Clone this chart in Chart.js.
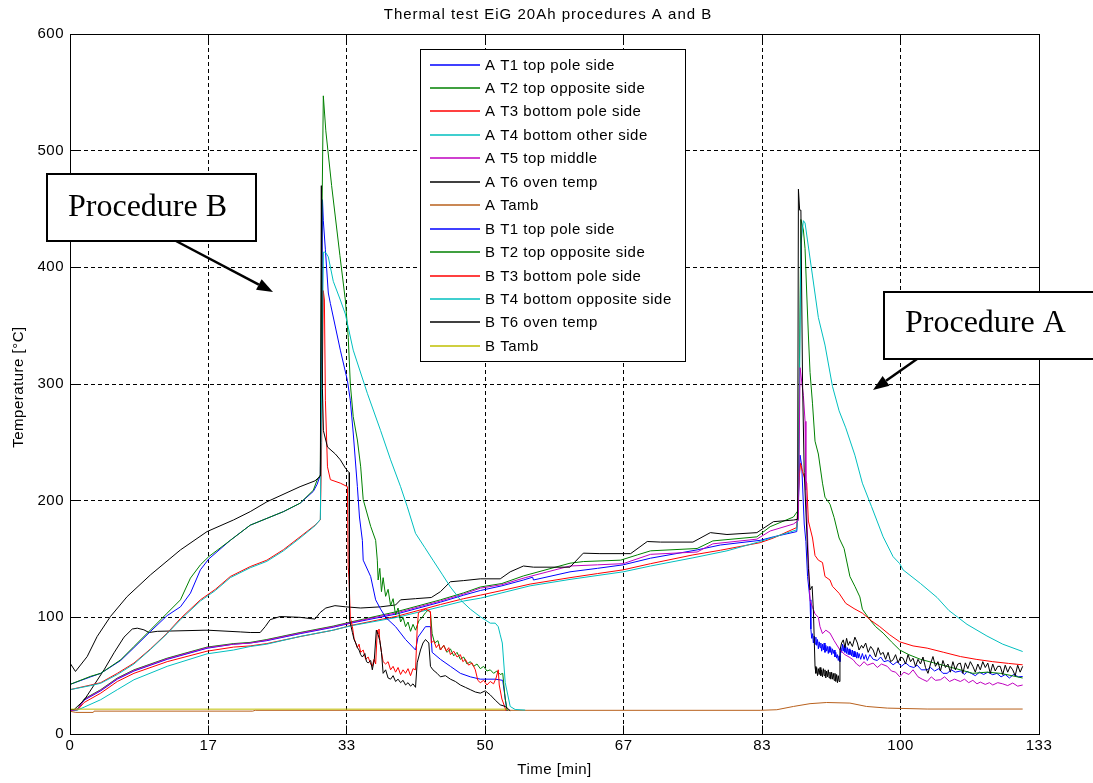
<!DOCTYPE html>
<html>
<head>
<meta charset="utf-8">
<title>Thermal test EiG 20Ah procedures A and B</title>
<script src="https://cdn.jsdelivr.net/npm/chart.js@4/dist/chart.umd.min.js"></script>
<style>
  html, body { margin: 0; padding: 0; background: #fff; }
  #wrap { width: 1093px; height: 783px; }
</style>
</head>
<body>
<div id="wrap"><canvas id="c" width="1093" height="783"></canvas></div>
<script>
// Time axis: one grid step = 1000 s (16.67 min); tick labels as printed on the axis
const xTickLabels = ['0', '17', '33', '50', '67', '83', '100', '133'];
const yTickLabels = ['0', '100', '200', '300', '400', '500', '600'];

// Each series: [time (min), temperature (°C)]
const A_T1 = [[0,20],[0.9,21],[1.7,29],[3.7,37],[5.7,47],[7.7,54],[11.7,64],[16.5,73.5],[19.7,77],[21.7,78],[23.7,80],[27.7,86],[31.7,91.5],[33.8,95],[39.4,103],[44.6,113],[47.4,119],[49.4,123],[52,127],[54.6,132],[55.7,134.4],[55.8,132],[60.2,139],[63.5,142],[66.6,145],[69.9,150.7],[75.5,157.8],[78.3,162],[83.1,166],[84.7,169],[87.5,173.5],[87.7,200],[87.9,239],[88.1,230],[88.4,180],[88.6,165],[88.8,135],[89.1,115],[89.2,90],[89.3,82],[89.4,86],[89.5,78],[89.6,84],[89.7,77],[89.8,83],[89.9,76],[90.0,81],[90.1,73],[90.2,79],[90.3,74],[90.4,78],[90.5,71],[90.6,77],[90.7,72],[90.8,78],[90.9,70],[91.0,76],[91.1,71],[91.2,75],[91.3,69],[91.4,75],[91.5,70],[91.6,74],[91.7,68],[91.8,73],[91.9,69],[92.0,72],[92.1,66],[92.2,70],[92.3,65],[92.4,68],[92.5,63],[92.6,67],[92.7,62],[92.8,74],[92.9,70],[93.0,77],[93.1,71],[93.2,76],[93.3,70],[93.4,75],[93.5,69],[93.6,74],[93.7,68],[93.8,73],[93.9,68],[94.0,72],[94.1,67],[94.2,72],[94.3,66],[94.4,71],[94.5,66],[94.6,70],[94.7,65],[94.8,70],[94.9,65],[95.0,69],[95.2,64],[95.4,69],[95.6,64],[95.8,68],[96.0,63],[96.3,68],[96.7,64],[97.2,63],[97.6,66],[98.0,62],[98.5,63],[99.1,59.3],[99.6,62],[100.1,58],[100.6,61],[101.1,58],[101.6,57],[102.0,59],[102.5,55],[103.2,55],[103.6,57],[104.1,54],[104.6,56],[105.1,52],[105.6,52],[106.1,55],[106.6,53],[107.2,54],[107.7,51],[108.0,53.6],[108.5,52],[109.0,50],[109.5,53],[110.0,51],[110.5,53],[111.1,50.8],[111.6,52],[112.1,49],[112.6,51],[113.1,48],[113.6,51],[114.2,49],[114.7,49.3]];

const A_T2 = [[0,20],[0.9,21.5],[1.7,30],[3.7,38],[5.7,48],[7.7,55],[11.7,65],[16.5,74.5],[19.7,77.5],[21.7,78.5],[23.7,81],[27.7,87],[31.7,92.5],[33.8,96],[39.4,105],[44.6,115],[47.4,121],[49.4,126],[52,129],[54.6,135.5],[60.2,146.4],[61.8,147.8],[66.3,149],[68.3,153.5],[69.9,157],[75.5,159],[77.4,165.5],[82.7,169],[84.3,177.7],[87.1,186],[87.7,192],[87.8,300],[88.0,441],[88.3,432],[88.5,416],[88.7,378],[88.9,342],[89.1,310],[89.4,283],[89.7,251],[90.1,240],[90.6,215],[90.9,203],[91.5,197],[92.0,185.5],[92.6,168],[93.2,159],[93.9,135],[94.5,126.6],[95.1,117.5],[95.4,107],[96.3,98],[97.0,92],[97.9,86.5],[98.9,79],[99.9,72],[101.0,68],[102.4,64],[104.0,61],[105.6,58],[107.2,55],[108.7,52],[110.4,53],[112.0,52],[113.4,50],[114.7,48]];

const A_T3 = [[0,20],[0.9,20.5],[1.7,27],[3.7,35],[5.7,45],[7.7,52],[11.7,62],[16.5,71],[19.7,74.5],[21.7,75.5],[23.7,77.5],[27.7,83.5],[31.7,89],[33.8,93],[39.4,101],[44.6,111],[47.4,116],[49.4,119],[52,123],[55.4,128.5],[60.2,134],[63.5,137.5],[66.6,140.7],[69.9,146],[75.0,153.5],[78.3,157.5],[83.1,164],[84.7,168],[87.5,177],[87.8,220],[87.95,232],[88.2,225],[88.5,218],[88.7,215],[88.9,182.5],[89.4,168],[89.7,153],[90.1,149],[90.6,147],[90.9,135],[91.5,132],[91.8,126.6],[92.6,120.6],[93.4,112],[94.4,107.5],[95.4,103.6],[96.5,97],[97.5,92],[98.7,85],[99.9,79],[101.5,75.5],[103.2,73.6],[105.2,70],[107.2,66.4],[109.1,64],[111.1,62],[113.0,60.5],[114.7,59.3]];

const A_T4 = [[0,20],[0.9,20.5],[1.7,23],[3.7,29.4],[5.7,38],[7.7,46.5],[11.7,58],[16.5,68.7],[19.7,72],[21.7,75],[23.7,77],[27.7,83.6],[31.7,89],[33.8,92.7],[39.4,100],[44.6,109],[47.4,114],[49.4,116.4],[55.4,127],[60.2,132.5],[66.6,139],[69.9,144],[75.0,151],[79.1,157],[83.1,165],[87.5,175],[87.7,200],[88.0,420],[88.3,440],[88.5,438],[89.4,392.6],[90.1,357],[90.9,333.4],[91.8,298],[92.6,277],[93.4,262.4],[94.5,239],[95.4,215],[96.5,195],[97.9,169],[99.1,152],[99.9,146],[100.3,140.7],[102.4,129],[104.4,117],[105.8,106],[108.0,94],[110.4,84],[112.3,77],[114.7,70.7]];

const A_T5 = [[0,20],[0.9,21],[1.7,29.5],[3.7,37.5],[5.7,47.5],[7.7,54.5],[11.7,64.5],[16.5,74],[19.7,77],[21.7,78],[23.7,80.5],[27.7,86.5],[31.7,92],[33.8,95.5],[39.4,104],[44.6,114],[47.4,120],[49.4,125],[52,128],[54.8,134],[60.2,144],[63.5,145],[66.6,146],[69.9,154],[75.5,156],[77.4,163],[82.7,167],[84.3,174],[87.1,180],[87.7,183],[87.9,314],[88.3,290],[88.5,268],[88.6,209],[88.9,150],[89.1,114.5],[89.4,108.6],[89.7,103],[90.1,100],[90.3,92],[90.6,86],[91.0,89],[91.5,86.5],[92.0,80],[92.7,72],[93.3,68],[93.8,66],[94.3,63.6],[94.7,60],[95.1,58],[95.6,62],[96.0,59],[96.7,60.8],[97.2,57],[97.7,60],[98.4,58],[98.9,54],[99.4,53],[99.9,49],[100.4,53],[101.0,51],[101.5,55],[102.1,49],[102.6,47],[103.2,45],[103.7,49],[104.2,46],[104.8,46.5],[105.3,49],[105.9,45],[106.5,47],[107.2,45],[107.7,47],[108.2,44],[108.7,46],[109.2,43],[109.6,44.5],[110.2,42.5],[110.7,44],[111.1,42],[111.7,44],[112.3,43],[112.9,41.5],[113.5,43.7],[114.1,41],[114.7,42]];

const A_T6 = [[0,21],[0.5,21],[1.7,29],[2.9,42],[4.1,55],[5.3,69.6],[6.5,83],[7.5,90],[8.1,90.7],[8.9,89.3],[9.5,87],[10.5,88],[16.5,89],[20.5,87.5],[21.7,87],[22.9,87],[23.5,92],[24.1,98],[25.3,100.7],[27.7,100],[29.5,98.5],[30.1,104],[30.8,108],[31.9,110],[33.2,109],[35.0,108],[37.4,109],[39.2,110.6],[39.8,115],[41.6,116],[43.5,117],[44.6,122],[45.8,130.5],[47.4,131.5],[49.4,133],[51.8,133],[53.0,139],[54.6,144],[55.8,143],[60.2,143],[61.8,155],[63.8,154.6],[67.5,154.6],[69.5,165],[71.1,164.5],[75.0,164.5],[77.1,172.6],[79.1,171],[82.7,172.6],[84.7,182],[87.1,183.4],[87.6,184],[87.7,467],[87.85,449],[88.0,449],[88.2,300],[88.4,224],[88.9,142],[89.1,123.5],[89.35,126.6],[89.5,106.5],[89.7,58],[89.8,52],[89.9,57],[90.0,50],[90.1,56],[90.2,51],[90.3,57],[90.4,50],[90.5,55],[90.6,49],[90.7,56],[90.8,50],[90.9,55],[91.0,48],[91.1,54],[91.2,49],[91.3,55],[91.4,48],[91.5,53],[91.6,47],[91.7,53],[91.8,47],[91.9,52],[92.0,46],[92.1,52],[92.2,45],[92.3,51],[92.4,44],[92.5,50],[92.6,45],[92.7,72],[92.9,78],[93.1,80.7],[93.3,74],[93.5,82],[93.7,76],[93.9,79.3],[94.2,75],[94.5,83],[94.8,78],[95.0,72],[95.3,76],[95.5,73.6],[95.8,78],[96.1,70],[96.4,75],[96.7,72],[97.0,66],[97.3,74],[97.6,68],[97.9,70],[98.2,64],[98.5,70],[98.8,62],[99.1,63.6],[99.4,68],[99.7,61],[100.0,66],[100.3,65],[100.6,60],[100.9,68],[101.2,62],[101.5,65],[101.8,58],[102.1,64],[102.4,60],[102.7,66],[103.0,57],[103.3,52],[103.6,60],[103.9,66.4],[104.2,58],[104.5,62],[104.8,54],[105.1,63],[105.4,57],[105.7,60],[106.0,53],[106.3,62],[106.6,55],[106.9,60],[107.2,60.8],[107.5,52],[107.8,61],[108.1,56],[108.4,62],[108.7,58],[109.0,53],[109.3,60],[109.6,55],[109.9,62],[110.2,57],[110.5,60.8],[110.8,52],[111.1,60],[111.4,54],[111.7,58],[112.0,58],[112.3,51],[112.6,59],[112.9,53],[113.2,58],[113.5,55],[113.8,50],[114.1,59],[114.4,53],[114.7,58]];

const A_Tamb = [[0,19.5],[0.7,18.5],[2.8,18.5],[2.9,19.6],[22.0,19.6],[22.3,20.3],[83.1,20.3],[85.1,20.8],[87.1,23.6],[89.1,26],[91.1,27],[93.9,26.5],[95.9,23.6],[98.4,22.2],[103.2,21.4],[114.7,21.4]];

const B_T1 = [[0,42.5],[2.5,49],[3.7,52],[6.1,63],[7.7,74],[9.7,88],[11.7,101.5],[13.3,109],[14.5,120.7],[15.7,140.7],[16.7,150],[19.3,166],[21.7,179],[25.7,190.6],[27.7,197.8],[29.3,208],[29.75,214],[30.14,222],[30.3,330],[30.4,458],[30.5,440],[30.75,415],[31.1,378],[31.35,369],[32.55,329],[33.4,303],[33.75,286],[34.1,258],[34.6,212],[34.85,186],[35.2,166],[35.3,149],[36.2,135],[36.8,115],[37.4,107],[38.0,100],[39.2,92],[40.4,81],[41.6,72],[41.9,83],[42.8,92],[43.4,92],[43.6,70],[44.6,64],[45.8,58],[47.0,52],[48.2,49],[49.4,47],[51.2,47],[52.1,46],[52.6,20]];

const B_T2 = [[0,42.5],[2.5,49.5],[3.7,52],[6.1,63.6],[7.7,75],[9.7,89.3],[11.7,103.6],[13.3,115],[14.5,133.6],[15.7,145],[16.7,152],[19.3,166],[21.7,179],[25.7,190.6],[27.7,197.8],[29.3,209],[29.75,217.7],[30.14,222],[30.3,420],[30.5,547],[30.8,517],[31.5,470],[32.5,410],[33.15,372],[33.5,340],[33.75,300],[34.1,272],[34.6,252],[35.0,229],[35.3,201],[36.2,178],[36.8,166],[37.0,149],[37.1,132],[37.3,142],[37.5,122],[37.7,134],[38.0,118],[38.3,124],[38.6,110],[38.9,116],[39.2,102],[39.5,108],[39.8,96],[40.1,100],[40.4,92],[40.7,96],[41.0,88],[41.3,94],[41.6,89],[42.0,97],[42.4,100],[42.8,104],[43.1,106],[43.4,104],[43.6,86],[43.9,78],[44.3,80],[44.6,72],[45.0,76],[45.4,70],[45.8,73],[46.2,67],[46.6,70],[47.0,64],[47.4,66],[47.8,60],[48.2,62],[48.6,58],[49.0,60],[49.4,56],[49.8,58],[50.2,54],[50.6,55],[51.0,52],[51.4,54],[51.8,51],[52.1,52],[52.4,30],[52.65,20]];

const B_T3 = [[0,38],[2.5,42],[3.7,44],[5.7,52],[7.7,60.8],[9.7,73],[11.7,86.5],[13.3,99],[15.7,115],[17.5,124],[19.3,135],[21.7,143.5],[23.7,149],[25.7,158],[27.7,169],[29.5,179],[30.14,183.5],[30.3,250],[30.5,380],[30.63,372],[30.75,286],[31.0,229],[31.35,218],[32.55,215],[33.4,212],[33.5,143],[33.6,132],[33.75,100],[34.0,92],[34.2,82],[34.4,78],[34.6,74],[34.8,77],[35.0,70],[35.3,72],[35.6,64],[35.9,66],[36.2,60],[36.4,58],[36.6,64],[36.8,60],[37.0,89],[37.12,86],[37.2,90],[37.3,80],[37.5,70],[37.7,62],[38.0,60],[38.3,62],[38.6,55],[38.9,58],[39.2,53],[39.5,57],[39.8,51],[40.1,55],[40.4,52],[40.7,56],[41.0,50],[41.3,56],[41.6,55],[41.8,90],[41.95,104],[42.4,106],[42.8,107],[43.4,105],[43.5,78],[43.8,80],[44.1,74],[44.4,77],[44.6,72],[45.0,76],[45.3,71],[45.6,74],[45.8,68],[46.2,71],[46.6,66],[47.0,68],[47.3,62],[47.6,64],[48.0,59],[48.4,61],[48.8,55],[49.1,46],[49.4,44],[49.8,46],[50.2,42],[50.6,45],[51.0,43],[51.3,48],[51.56,55],[51.68,42],[52.0,30],[52.5,20]];

const B_T4 = [[0,38],[2.5,41.5],[3.7,43.5],[5.7,51],[7.7,60],[9.7,72.5],[11.7,86],[13.3,98],[15.7,114],[17.5,123],[19.3,134],[21.7,142.5],[23.7,148],[25.7,157],[27.7,168],[29.5,178.5],[30.14,184],[30.3,300],[30.51,413],[30.75,413],[31.1,409],[31.7,388],[32.55,372],[33.15,360],[34.1,329],[35.8,292],[37.4,260],[38.6,235],[39.8,212],[40.6,195],[41.6,172],[42.7,160],[43.7,149],[44.8,137],[45.8,126],[47.0,115],[48.2,107],[49.4,100.5],[50.6,95],[51.2,95],[51.56,92],[51.8,85],[52.05,78],[52.4,44],[53.0,23.6],[53.6,21],[54.8,20.5]];

const B_T6 = [[0,60.8],[0.66,53.6],[2.07,66.4],[3.27,83.6],[4.87,100.7],[6.88,117.8],[9.69,136.4],[13.3,157.8],[16.5,173.5],[19.7,183.5],[21.7,190.6],[23.7,199],[27.7,212],[29.5,217],[30.14,221],[30.26,470],[30.39,296],[30.51,260],[31.0,246],[31.95,240],[32.55,235],[33.15,228],[33.6,224],[33.65,98],[33.75,95],[34.0,87],[34.2,81],[34.4,78],[34.6,74],[34.8,72],[35.0,68],[35.2,66],[35.5,69],[35.7,62],[35.9,61],[36.2,63],[36.4,55],[36.64,64],[36.88,89],[37.1,85],[37.3,80],[37.5,70],[37.7,52],[38.0,55],[38.3,48],[38.6,47],[38.9,50],[39.2,45],[39.5,47],[39.8,44],[40.1,46],[40.4,42],[40.7,44],[41.0,41],[41.3,43],[41.6,40],[41.8,61],[42.2,72],[42.5,78],[42.8,81],[43.2,78],[43.4,58],[43.7,55],[44.2,52],[44.6,49],[45.2,50],[45.8,47],[46.4,45],[47.0,42],[47.6,40],[48.2,38],[48.8,36],[49.4,35],[50.0,37],[50.6,33.5],[51.2,29],[51.8,25],[52.4,23.6],[53.0,20]];

const B_Tamb = [[0,21.3],[52.7,21.3]];

// Legend text, data and line colour for each curve, in plotting order
const series = [
  ['A T1 top pole side',         A_T1,   '#0000ff'],
  ['A T2 top opposite side',     A_T2,   '#008000'],
  ['A T3 bottom pole side',      A_T3,   '#ff0000'],
  ['A T4 bottom other side',     A_T4,   '#00bfbf'],
  ['A T5 top middle',            A_T5,   '#bf00bf'],
  ['A T6 oven temp',             A_T6,   '#000000'],
  ['A Tamb',                     A_Tamb, '#b8601c'],
  ['B T1 top pole side',         B_T1,   '#0000ff'],
  ['B T2 top opposite side',     B_T2,   '#008000'],
  ['B T3 bottom pole side',      B_T3,   '#ff0000'],
  ['B T4 bottom opposite side',  B_T4,   '#00bfbf'],
  ['B T6 oven temp',             B_T6,   '#000000'],
  ['B Tamb',                     B_Tamb, '#bfbf00']
];

const STEP_MIN = 1000 / 60;                       // 1000 s grid step in minutes
const xTickPos = xTickLabels.map((_, i) => i * STEP_MIN);
const yTickPos = yTickLabels.map(Number);

const FONT = '"Liberation Sans", Arial, sans-serif';
const SERIF = '"Liberation Serif", "Times New Roman", serif';
const TICK_LEN = 9;

const datasets = series.map(([label, pts, color], i) => ({
  label,
  data: pts.map(([x, y]) => ({ x, y })),
  borderColor: color,
  backgroundColor: color,
  borderWidth: 1,
  pointRadius: 0,
  tension: 0,
  fill: false,
  order: series.length - i          // later curves are painted on top
}));

function drawArrow(ctx, x0, y0, x1, y1) {
  const ang = Math.atan2(y1 - y0, x1 - x0);
  const headLen = 16, headHalf = 6;
  const bx = x1 - headLen * Math.cos(ang), by = y1 - headLen * Math.sin(ang);
  ctx.beginPath();
  ctx.moveTo(x0, y0);
  ctx.lineTo(bx, by);
  ctx.stroke();
  ctx.beginPath();
  ctx.moveTo(x1, y1);
  ctx.lineTo(bx + headHalf * Math.sin(ang), by - headHalf * Math.cos(ang));
  ctx.lineTo(bx - headHalf * Math.sin(ang), by + headHalf * Math.cos(ang));
  ctx.closePath();
  ctx.fill();
}

function calloutBox(ctx, x, y, w, h, text, tx, ty) {
  ctx.fillStyle = '#fff';
  ctx.fillRect(x, y, w, h);
  ctx.lineWidth = 2;
  ctx.strokeStyle = '#000';
  ctx.strokeRect(x, y, w, h);
  ctx.fillStyle = '#000';
  ctx.font = '32px ' + SERIF;
  ctx.textAlign = 'left';
  ctx.textBaseline = 'alphabetic';
  ctx.fillText(text, tx, ty);
}

const decorations = {
  id: 'decorations',
  beforeDraw(chart) {
    chart.ctx.letterSpacing = '0.5px';
  },
  afterDraw(chart) {
    const { ctx, chartArea: a, scales: { x, y } } = chart;
    const al = v => Math.round(v - 0.5) + 0.5;
    ctx.save();
    ctx.setLineDash([]);
    ctx.strokeStyle = '#000';
    ctx.fillStyle = '#000';
    ctx.lineWidth = 1;

    // axes box
    const L = al(a.left), R = al(a.right), T = al(a.top), B = al(a.bottom);
    ctx.strokeRect(L, T, R - L, B - T);

    // inward tick marks on all four sides
    ctx.beginPath();
    x.ticks.forEach(t => {
      const px = al(x.getPixelForValue(t.value));
      ctx.moveTo(px, B); ctx.lineTo(px, B - TICK_LEN);
      ctx.moveTo(px, T); ctx.lineTo(px, T + TICK_LEN);
    });
    y.ticks.forEach(t => {
      const py = al(y.getPixelForValue(t.value));
      ctx.moveTo(L, py); ctx.lineTo(L + TICK_LEN, py);
      ctx.moveTo(R, py); ctx.lineTo(R - TICK_LEN, py);
    });
    ctx.stroke();

    // titles
    ctx.font = '15px ' + FONT;
    ctx.textAlign = 'center';
    ctx.textBaseline = 'middle';
    ctx.letterSpacing = '1px';
    ctx.fillText('Thermal test EiG 20Ah procedures A and B', 548, 15);
    ctx.letterSpacing = '0.5px';
    ctx.fillText('Time [min]', (a.left + a.right) / 2, 770);
    ctx.save();
    ctx.translate(19, 387);
    ctx.rotate(-Math.PI / 2);
    ctx.fillText('Temperature [°C]', 0, 0);
    ctx.restore();

    // legend
    const lg = { x: 420.5, y: 49.5, w: 265, h: 312, row0: 64.5, dy: 23.45, l0: 430, l1: 480, tx: 485 };
    ctx.fillStyle = '#fff';
    ctx.fillRect(lg.x, lg.y, lg.w, lg.h);
    ctx.strokeStyle = '#000';
    ctx.lineWidth = 1;
    ctx.strokeRect(lg.x, lg.y, lg.w, lg.h);
    ctx.textAlign = 'left';
    ctx.textBaseline = 'middle';
    chart.data.datasets.forEach((ds, i) => {
      const yy = Math.round(lg.row0 + i * lg.dy);
      ctx.strokeStyle = ds.borderColor;
      ctx.lineWidth = 1.3;
      ctx.beginPath();
      ctx.moveTo(lg.l0, yy);
      ctx.lineTo(lg.l1, yy);
      ctx.stroke();
      ctx.fillStyle = '#000';
      ctx.fillText(ds.label, lg.tx, yy + 1);
    });

    // callouts
    ctx.letterSpacing = '0px';
    calloutBox(ctx, 47, 174, 209, 67, 'Procedure B', 68, 216);
    calloutBox(ctx, 884, 292, 210, 67, 'Procedure A', 905, 332);
    ctx.lineWidth = 2.5;
    ctx.strokeStyle = '#000';
    ctx.fillStyle = '#000';
    drawArrow(ctx, 176, 241, 273, 292);
    drawArrow(ctx, 917, 359, 873, 390);
    ctx.restore();
  }
};

new Chart(document.getElementById('c'), {
  type: 'line',
  data: { datasets },
  options: {
    responsive: false,
    animation: false,
    devicePixelRatio: 1,
    layout: { padding: { left: 0, right: 54, top: 34, bottom: 0 } },
    plugins: {
      legend: { display: false },
      title: { display: false },
      tooltip: { enabled: false }
    },
    scales: {
      x: {
        type: 'linear',
        min: 0,
        max: xTickPos[xTickPos.length - 1],
        afterBuildTicks: s => { s.ticks = xTickPos.map(v => ({ value: v })); },
        afterFit: s => { s.height = 49; },
        ticks: {
          autoSkip: false, maxRotation: 0, padding: 3, color: '#000',
          font: { family: FONT, size: 15 },
          callback: (v, i) => xTickLabels[i]
        },
        grid: { color: '#000', lineWidth: 1, drawTicks: false },
        border: { display: false, dash: [4, 3] }
      },
      y: {
        type: 'linear',
        min: 0,
        max: 600,
        afterBuildTicks: s => { s.ticks = yTickPos.map(v => ({ value: v })); },
        afterFit: s => { s.width = 70; },
        ticks: {
          autoSkip: false, padding: 6, color: '#000',
          font: { family: FONT, size: 15 },
          callback: (v, i) => yTickLabels[i]
        },
        grid: { color: '#000', lineWidth: 1, drawTicks: false },
        border: { display: false, dash: [4, 3] }
      }
    }
  },
  plugins: [decorations]
});
</script>
</body>
</html>
